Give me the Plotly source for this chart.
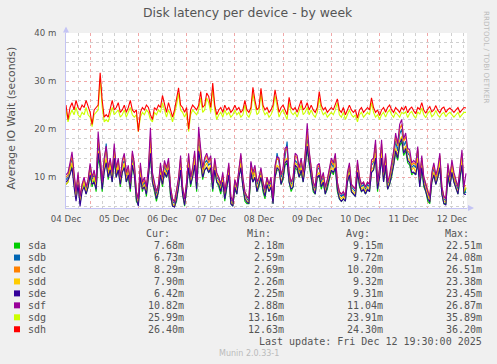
import plotly.graph_objects as go
import pandas as pd

# ---------------- data ----------------
devices = ["sda", "sdb", "sdc", "sdd", "sde", "sdf", "sdg", "sdh"]
colors = ["#00CC00", "#0066B3", "#FF8000", "#FFCC00", "#330099", "#990099", "#CCFF00", "#FF0000"]
cur_vals = ["7.68m", "6.73m", "8.29m", "7.90m", "6.42m", "10.82m", "25.99m", "26.40m"]
min_vals = ["2.18m", "2.59m", "2.69m", "2.26m", "2.25m", "2.88m", "13.16m", "12.63m"]
avg_vals = ["9.15m", "9.72m", "10.20m", "9.32m", "9.31m", "11.04m", "23.91m", "24.30m"]
max_vals = ["22.51m", "24.08m", "26.51m", "23.38m", "23.45m", "26.87m", "35.89m", "36.20m"]

start_time = "2025-12-04 12:00"
end_time = "2025-12-12 19:30"
times = pd.date_range(start_time, periods=200, freq="h")

# values in milliseconds (hourly)
sda = [8.5,9,11,12.5, 9,5.5,9,4.5, 7.5,8.5,6.5,8, 10.5,8,9.5,7, 14,12,7,11.5, 13.5,9.5,12,9,
       13.5,10,12,8, 11,12.5,9,10, 7,12,10.5,5, 4.2,10.5,7,8.5, 6,10,14.5,9, 7,5,7,10.5,
       8,11,10,11.5, 6,4,3.9,5, 8,11.5,6.5,4, 7.5,12,8,10, 12.5,7,15,13, 9.5,11.5,12,11,
       11.5,7,11.5,9, 8,6.5,9,5, 7.5,10.5,4.5,4, 7.5,6.5,10,12, 8,5,4.5,4.5, 10.5,9,10,7,
       8,10,7,5.5, 8.5,7,8,4.5, 10,11.5,11.5,8.5, 9.5,12.5,13,9, 7,8,12,11.5, 10,11,9,12,
       16,12.5,9.5,7, 6.5,10,10,7.5, 9,6.5,7.5,9.5, 11.5,10.5,12,7, 5.5,5,5.5,5, 9,10.5,7,6.5,
       6,11,8,7, 7.5,6.5,7.5,7, 11,11.5,14,7, 10,14,9,12, 7.5,8.5,10,12.5, 15,13.5,16.5,17.5,
       14.5,15.5,13,12.5, 10.5,11,10.5,13, 8,11.5,8,7, 5,4.5,9,10.5, 8.5,10,12,6.5, 4.5,4.5,10,8,
       11,9,7.5,6.5, 9.5,12.5,6.5,7.7]
sdb = [9.5,10,12,14, 10,6.5,10,5.5, 8,9,7.5,9, 12,9.5,10.5,8.5, 17,14,8.5,13, 17,11,13,10,
       15.5,11,13,9, 12.5,13.5,10,11.5, 8,14,12,6.5, 5,11.5,8,9, 7.5,11,17.5,10, 8,6.5,8,12,
       9,12.5,11,13, 7.5,5,4.5,6.5, 9,13,7.5,5, 8.5,13.5,9.5,11, 14,8.5,17.5,14.5, 11,13,13.5,12.5,
       13,8.5,13,10, 9.5,8,10,6.5, 9,12,5.5,4.5, 9,7.5,11,14, 9,6.5,5.5,5, 13,10,11.5,8.5,
       9.5,11,8.5,7, 9.5,8,9,5, 11.5,15,13,10, 11,14.5,17.4,10, 8.5,9.5,13.5,13, 11,13,10,13.5,
       18,14,11,8.5, 7.5,11.5,12,9, 10,7.5,9,11, 13,12,14,8.5, 6.5,6,6.5,5.5, 10,12,8,7.5,
       7,12.5,9.5,8, 8.5,7.5,8.5,8, 12.5,13,16,8.5, 11,16,10,14, 8.5,9.5,12,14, 17.5,15.5,19,20,
       16.5,17.5,15,14.5, 12,12.5,12,15.5, 9.5,13.5,9.5,8, 6.5,5.5,10,12, 9.5,11,14,7.5, 5.5,5,12,9.5,
       12.5,10,8.5,7.5, 11,14,7.5,6.7]
sdc = [10,10.5,12.5,14.5, 10.5,7,10.5,6, 8.5,9.5,8,9.5, 12.5,10,11,9, 18,14.5,9,13.5, 16,11.5,13.5,10.5,
       16,11.5,13.5,9.5, 13,14.5,10.5,12, 8.5,15,12.5,7, 5.5,12.5,8.5,9.5, 8,11.5,18.5,10.5, 8.5,7,8.5,12.5,
       9.5,13,11.5,13.5, 8,5.5,5,7, 9.5,14,8,5.5, 9,14.5,10,11.5, 15,9,19,15.5, 11.5,13.5,14.5,13,
       14,9,13.5,10.5, 10,8.5,10.5,7, 9.5,12.5,6,5, 9.5,8,11.5,14.5, 9.5,7,6,5.5, 12.5,10.5,12,9,
       10,11.5,9,7.5, 10,8.5,9.5,5.5, 12,14,13.5,10.5, 11.5,15.5,16,10.5, 9,10,14.5,14, 11.5,13.5,10.5,14.5,
       19.5,15,11.5,9, 8,12,12.5,9.5, 10.5,8,9.5,11.5, 13.5,12.5,14.5,9, 7,6.5,7,6, 10.5,12.5,8.5,8,
       7.5,13,10,8.5, 9,8,9,8.5, 13,13.5,17,9, 11.5,17,10.5,14.5, 9,10,12.5,15, 18.5,16.5,20,21,
       17.5,18.5,15.5,15, 12.5,13,12.5,16, 10,14,10,8.5, 7,6,10.5,12.5, 10,11.5,14.5,8, 6,5.5,12.5,10,
       13,10.5,9,8, 11.5,15,8,8.3]
sdd = [8.5,9,11.5,13, 9,5.5,9,5, 7.5,9,7,8.5, 11,9,10,8, 15.5,13,8,12, 14,10.5,12.5,9.5,
       14.5,10.5,12.5,8.5, 11.5,13,9.5,11, 7.5,13,11,6, 4.5,11,7.5,8.5, 7,10.5,16,9.5, 7.5,6,7.5,11,
       8.5,11.5,10.5,12, 7,4.5,4,6, 8.5,12,7,4.5, 8,13,9,10.5, 14,8,16.5,14, 10.5,12,13,11.5,
       12.5,8,12,9.5, 9,7.5,9.5,6, 8.5,11,5,4.2, 8.5,7,10.5,13, 8.5,6,5,4.8, 11.5,9.5,11,7.5,
       9,10.5,8,6.5, 9,7.5,8.5,4.8, 10.5,12.5,12,9, 10.5,13.5,14,9.5, 8,9,13,12.5, 10.5,12,9.5,12.5,
       17,13.5,10.5,8, 7,10.5,11,8.5, 9.5,7,8.5,10.5, 12,11.5,13,8, 6,5.5,6,5.5, 9.5,11,7.5,7,
       6.5,11.5,9,7.5, 8,7,8,7.5, 11.5,12,15,8, 10.5,15,9.5,13, 8,9,11,13, 16,14.5,17.5,18.5,
       15.5,16.5,14,13.5, 11.5,12,11,14, 9,12.5,9,7.5, 6,5,9.5,11, 9,10.5,13.5,7, 5,4.8,11,9,
       12,9.5,8,7, 10.5,14,7,7.9]
sde = [9,9.5,10.5,12, 8,5,8.5,4, 7,8,6.5,8, 10.5,8.5,9,7.5, 15,12.5,7.5,11, 13,10,11.5,9,
       14,10,11.5,8.5, 11,12,9,10.5, 7.5,12.5,10.5,5.5, 4,10,7.5,8, 6.5,10,15,9, 7.5,5.5,7,10.5,
       8.5,11,10,11.5, 6.5,4,3.8,5.5, 8,11.5,6.5,4.2, 7.5,12,8.5,10, 12.5,7.5,15.5,13, 10,11.5,12,11,
       12,7.5,11.5,9, 8.5,7,9,5.5, 8,10.5,4.5,4, 8,6.5,10,12, 8,5.5,4.8,4.5, 11,9,10,7,
       8.5,10,7.5,6, 8.5,7,8,4.5, 10,12,11.5,8.5, 10,13,13.5,9, 7.5,8,12.5,12, 10,11.5,9,12,
       16.5,13,10,7.5, 6.5,10,10.5,8, 9,6.5,8,10, 11.5,11,12,7.5, 5.5,5,5.5,5, 9,10.5,7,6.5,
       6,11,8.5,7, 7.5,6.5,7.5,7, 11,11.5,14,7.5, 10,14,9,12.5, 7.5,8.5,10.5,12.5, 15.5,14,17,18,
       15,16,13.5,13, 11,11,10.5,13, 8,12,8.5,7, 5.5,4.8,9,10.5, 8.5,10,12,6.5, 4.5,4.2,10.5,8,
       11,9,7.5,6.5, 10,12.5,6.5,6.4]
sdf = [10.5,11,13,15.3, 11,7,11,6, 8.5,10,8,9.5, 12.9,10,11.5,9, 19.5,15,9,14, 16.5,12,14,11,
       17,12,14,10, 13.5,15,11,12.5, 9,15.5,13,7, 5.5,13,9,10, 8,12,20.3,11, 9,7,8.5,13,
       10,13.5,12,14, 8,5.5,4.8,7, 10,14.5,8,5.5, 9,15,10,12, 15.5,9,20.5,16, 12,14,15,13.5,
       14.5,9,14,11, 10,8.5,11,7, 9.5,13,6,5, 9.5,8,12,15, 10,7,6,5.5, 13.3,11,12.5,9,
       10,12,9,7.5, 10,8.5,10,5.5, 12.5,14.3,14,10.5, 12,16,16.4,11, 9,10,15,14.5, 12,14,11,15,
       21.2,15.5,12,9, 8,12.5,12.9,9.5, 11,8,9.5,12, 14,13,15,9, 7,6.5,7,6, 11,13,8.5,8,
       7.5,13.6,10,8.5, 9,8,9,8.5, 13.6,14,17.8,9, 12,17.8,11,15, 9,10.5,12.9,15.5, 19.2,17,21,22,
       18,19.2,16,15.7, 13,13.5,12.9,16.4, 10,14.5,10.1,8.5, 7,6,11,13, 10.5,12,15,8, 6,5.5,12.9,10,
       13.6,11,9.5,8, 12,15.7,8,10.8]
sdg = [24,21.5,23,24, 23,24.5,23,22.5, 23.5,23,24.5,23, 22.5,20.5,23,23.5, 24,30.5,24.5,21.5, 22,21.5,23,24.5,
       23,23.5,24,22.5, 23,24,22.5,23.5, 24.5,23,22.5,23, 19.5,22.5,23.5,23, 24,23.5,22,21.5, 23.5,23,24,23.5,
       25.5,24,22.5,24, 23,21.5,23,25, 27.5,24,23.5,22.5, 23.5,19.5,23,24, 23.5,23,24,26.5, 23.5,24,26.5,25.5,
       23.5,28.5,24,22, 23,23.5,22.5,24, 23,23.5,22.5,23, 24,23,23.5,22.5, 23,25,23,22.5, 23.5,27.5,25,23,
       23.5,27.5,24,23, 23.5,22.5,23,24, 27,25,22.5,23.5, 24,23,22,25.5, 23.5,23,23.5,22.5, 24,25,23,23.5,
       24.5,23,24,23, 22.5,23.5,26.5,24, 23,23.5,22.5,23, 23.5,23,24,25.5, 23,22.5,23.5,22, 23,24,23,22.5,
       23,21.5,23,23.5, 22.5,23,23.5,23, 25.5,23.5,22.5,23, 22,23,23.5,22.5, 23.5,24,23,22.5, 23.5,23,22.5,23.5,
       23.2,23.6,22.4,23.3, 23.7,22.8,22.3,23.6, 23.1,24.4,23,22.4, 23.3,23.8,22.6,23, 23.9,22.9,22.5,23.2, 23.5,22.6,23.2,23.5,
       23,22.5,23,23.5, 22.5,23,23.5,23.5]
sdh = [25,22,24.5,25.5, 24,26,24.5,24, 25,24.5,26,24.5, 23.5,21,24,24.5, 25,31.7,26,22.5, 23,22.5,24.5,26,
       24,24.5,25.5,23.5, 24,25,23.5,24.5, 26,24,23.5,24, 19.5,23.5,24.5,24, 25,24.5,23,22, 24.5,24,25,24.5,
       27,25,23.5,25.5, 24,22.5,24,26, 28.6,25,24.5,23.5, 24.5,20,24,25, 24.5,24,25,27.8, 24.5,25,27.5,26.8,
       24.5,29.6,25,23, 24,24.5,23.5,25, 24,24.5,23.5,24, 25,24,24.5,23.5, 24,26,24,23.5, 24.5,28.7,26,24,
       24.5,28.5,25,24, 24.5,23.5,24,25, 28.2,26,23.5,24.5, 25,24,23,26.6, 24.5,24,24.5,23.5, 25,26,24,24.5,
       25.5,24,25,24, 23.5,24.5,27.8,25, 24,24.5,23.5,24, 24.5,24,25,26.3, 24,23.5,24.5,23, 24,25,24,23.5,
       24,22.3,24,24.5, 23.5,24,24.5,24, 26.5,24.5,23.5,24, 22.8,24,24.5,23.5, 24.5,25,24,23.5, 24.5,24,23.5,24.5,
       24,24.8,23.4,24.2, 24.6,23.8,23.2,24.5, 24.1,25.5,24,23.3, 24.2,24.7,23.6,24, 24.9,23.9,23.4,24.3, 24.6,23.5,24.1,24.4,
       24,23.5,24,24.5, 23.5,24,24.5,24.4]
series = [sda, sdb, sdc, sdd, sde, sdf, sdg, sdh]
for s in series:
    assert len(s) == len(times), len(s)

y_range = [3.6, 40]
y_tick_vals = [10, 20, 30, 40]
y_tick_text = ["10 m", "20 m", "30 m", "40 m"]
day_label_times = pd.date_range("2025-12-04 12:00", periods=9, freq="D")
day_labels = [t.strftime("%d %b") for t in day_label_times]
midnights = pd.date_range("2025-12-05 00:00", periods=8, freq="D")

title_text = "Disk latency per device - by week"
y_title = "Average IO Wait (seconds)"
side_text = "RRDTOOL / TOBI OETIKER"
last_update = "Last update: Fri Dec 12 19:30:00 2025"
version_text = "Munin 2.0.33-1"

# ---------------- layout geometry (pixels) ----------------
W, H = 497, 364
L, R, T, B = 66, 467, 33, 208


def px(x):
    return (x - L) / (R - L)


def py(y):
    return (B - y) / (B - T)


TEXT = "#555555"
GRID_MINOR = "#D0D0D0"
GRID_MAJOR = "#F0A8A8"
AXIS = "#C4C4F4"
MONO = "DejaVu Sans Mono"
SANS = "DejaVu Sans"

fig = go.Figure()
# base subplot (carries the grid)
fig.add_trace(go.Scatter(x=[times[0]], y=[None], xaxis="x", yaxis="y",
                         showlegend=False, hoverinfo="skip"))
for name, color, vals in zip(devices, colors, series):
    fig.add_trace(go.Scatter(x=times, y=vals, name=name, mode="lines",
                             line=dict(color=color, width=1.1),
                             xaxis="x2", yaxis="y", showlegend=False))

annotations = []
annotations.append(dict(text=title_text, x=px(248), y=py(12.5), xref="paper", yref="paper",
                        xanchor="center", yanchor="middle", showarrow=False,
                        font=dict(family=SANS, size=12.4, color=TEXT)))
annotations.append(dict(text=y_title, x=px(10.5), y=py(118), xref="paper", yref="paper",
                        xanchor="center", yanchor="middle", showarrow=False, textangle=-90,
                        font=dict(family=SANS, size=10.8, color=TEXT)))
annotations.append(dict(text=side_text, x=px(487), y=py(57), xref="paper", yref="paper",
                        xanchor="center", yanchor="middle", showarrow=False, textangle=90,
                        font=dict(family=SANS, size=7.2, color="#BDBDBD")))

# legend header
for txt, right in zip(["Cur:", "Min:", "Avg:", "Max:"], [171, 272, 371, 470]):
    annotations.append(dict(text=txt, x=px(right + 1), y=py(233.7), xref="paper", yref="paper",
                            xanchor="right", yanchor="middle", showarrow=False,
                            font=dict(family=MONO, size=10, color=TEXT)))

shapes = []
row0, row_step = 245.6, 11.95
for i, (name, color) in enumerate(zip(devices, colors)):
    yc = row0 + i * row_step
    shapes.append(dict(type="rect", xref="paper", yref="paper",
                       x0=px(14), x1=px(20), y0=py(yc + 3), y1=py(yc - 3),
                       fillcolor=color, line=dict(width=0)))
    annotations.append(dict(text=name, x=px(25.7), y=py(yc), xref="paper", yref="paper",
                            xanchor="left", yanchor="middle", showarrow=False,
                            font=dict(family=MONO, size=10, color=TEXT)))
    for col, right in zip([cur_vals, min_vals, avg_vals, max_vals], [185, 285, 384.3, 483.3]):
        annotations.append(dict(text=col[i], x=px(right + 1), y=py(yc), xref="paper", yref="paper",
                                xanchor="right", yanchor="middle", showarrow=False,
                                font=dict(family=MONO, size=10, color=TEXT)))

annotations.append(dict(text=last_update.replace(" ", "&nbsp;"), x=px(484.3), y=py(341.7),
                        xref="paper", yref="paper", xanchor="right", yanchor="middle",
                        showarrow=False, font=dict(family=MONO, size=10, color=TEXT)))
annotations.append(dict(text=version_text, x=px(248.7), y=py(353), xref="paper", yref="paper",
                        xanchor="center", yanchor="middle", showarrow=False,
                        font=dict(family=SANS, size=8, color="#BBBBBB")))

# axis arrows
annotations.append(dict(x=px(66), y=py(26.5), ax=0, ay=8, xref="paper", yref="paper",
                        axref="pixel", ayref="pixel", text="", showarrow=True,
                        arrowhead=2, arrowsize=1.2, arrowwidth=1, arrowcolor=AXIS))
annotations.append(dict(x=px(474), y=py(208), ax=-8, ay=0, xref="paper", yref="paper",
                        axref="pixel", ayref="pixel", text="", showarrow=True,
                        arrowhead=2, arrowsize=1.2, arrowwidth=1, arrowcolor=AXIS))

fig.update_layout(
    width=W, height=H,
    margin=dict(l=L, r=W - R, t=T, b=H - B, autoexpand=False),
    paper_bgcolor="#F0F0F0", plot_bgcolor="#FFFFFF",
    showlegend=False,
    xaxis=dict(type="date", range=[start_time, end_time],
               tickmode="array", tickvals=list(midnights), showticklabels=False,
               showgrid=True, gridcolor=GRID_MAJOR, griddash="dot", gridwidth=1,
               ticks="", showline=True, linecolor=AXIS, linewidth=1, zeroline=False,
               minor=dict(tickmode="linear", tick0="2025-12-04 00:00", dtick=6 * 3600 * 1000,
                          showgrid=True, gridcolor=GRID_MINOR, griddash="dot", gridwidth=1)),
    xaxis2=dict(type="date", range=[start_time, end_time], overlaying="x", anchor="y",
                tickmode="array", tickvals=list(day_label_times), ticktext=day_labels,
                showgrid=False, showline=False, ticks="", zeroline=False,
                ticklabelstandoff=4,
                tickfont=dict(family=SANS, size=8.6, color=TEXT)),
    yaxis=dict(range=y_range, tickmode="array", tickvals=y_tick_vals, ticktext=y_tick_text,
               showgrid=True, gridcolor=GRID_MAJOR, griddash="dot", gridwidth=1,
               showline=True, linecolor=AXIS, linewidth=1, zeroline=False,
               ticks="", ticklabelstandoff=7,
               tickfont=dict(family=SANS, size=8.6, color=TEXT),
               minor=dict(tickmode="linear", tick0=0, dtick=2, showgrid=True,
                          gridcolor=GRID_MINOR, griddash="dot", gridwidth=1)),
    annotations=annotations,
    shapes=shapes,
    hovermode=False,
)

fig.write_html("out.html")
